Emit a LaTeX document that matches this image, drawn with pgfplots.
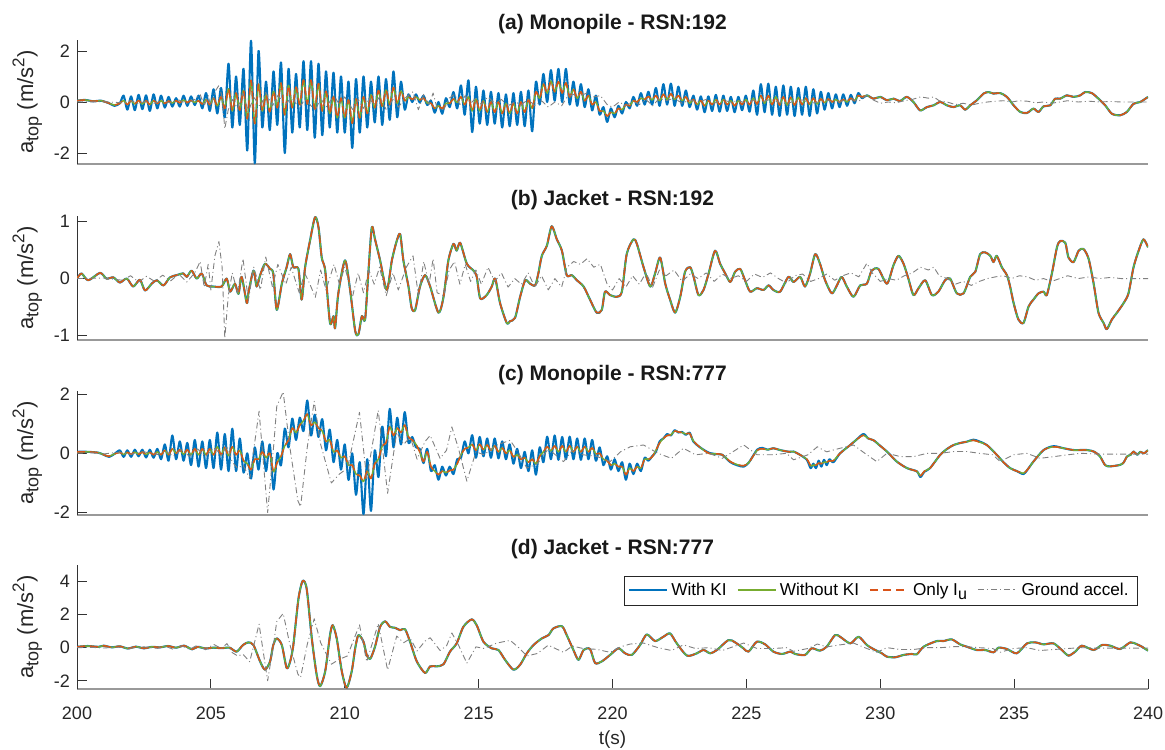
\documentclass[border=0pt]{standalone}
\usepackage{fontspec}
\setmainfont{Liberation Sans}
\usepackage{pgfplots}
\usepackage{pgfplotstable}
\pgfplotsset{compat=1.18}

\definecolor{mblue}{rgb}{0,0.447,0.741}
\definecolor{mgreen}{rgb}{0.466,0.674,0.188}
\definecolor{morange}{rgb}{0.85,0.325,0.098}

% (a) Monopile RSN:192 -- t, with KI, without KI
\pgfplotstableread{
t b g
200.00 0.05 0.05
200.30 0.08 0.08
200.60 0.03 0.03
200.90 0.05 0.05
201.20 -0.05 -0.05
201.40 -0.15 -0.12
201.60 -0.05 -0.05
201.74 0.25 0.06
201.88 -0.30 -0.10
202.02 0.22 0.05
202.16 -0.32 -0.08
202.30 0.28 0.06
202.44 -0.28 -0.08
202.58 0.26 0.05
202.72 -0.35 -0.10
202.86 0.30 0.06
203.00 -0.25 -0.06
203.14 0.25 0.05
203.28 -0.22 -0.06
203.42 0.20 0.04
203.56 -0.18 -0.04
203.70 0.15 0.05
203.84 -0.18 -0.03
203.98 0.25 0.08
204.12 -0.15 -0.02
204.26 0.22 0.06
204.40 -0.12 -0.02
204.54 0.25 0.05
204.68 -0.25 -0.08
204.82 0.35 0.10
204.96 -0.35 -0.10
205.10 0.50 0.15
205.24 -0.45 -0.15
205.38 0.55 0.20
205.52 -0.60 -0.25
205.66 1.50 0.52
205.80 -1.00 -0.35
205.94 1.00 0.35
206.08 -0.90 -0.32
206.22 1.30 0.45
206.36 -1.90 -0.66
206.50 2.40 0.85
206.64 -2.40 -0.85
206.78 2.00 0.70
206.92 -1.00 -0.35
207.06 0.80 0.28
207.20 -1.10 -0.38
207.34 1.20 0.42
207.48 -0.90 -0.22
207.62 1.55 0.74
207.76 -2.00 -0.50
207.90 1.30 0.65
208.04 -1.20 -0.22
208.18 1.10 0.58
208.32 -1.00 -0.10
208.46 1.60 0.86
208.60 -1.10 -0.08
208.74 1.60 0.86
208.88 -1.40 -0.29
209.02 1.50 0.72
209.16 -1.30 -0.35
209.30 1.20 0.42
209.44 -1.00 -0.45
209.58 1.15 0.20
209.72 -1.20 -0.62
209.86 1.00 0.15
210.00 -1.20 -0.62
210.14 0.80 0.08
210.28 -1.80 -0.83
210.42 0.90 0.12
210.56 -1.20 -0.62
210.70 1.00 0.20
210.84 -1.00 -0.45
210.98 0.80 0.28
211.12 -0.80 -0.23
211.26 1.00 0.45
211.40 -0.90 -0.17
211.54 0.90 0.47
211.68 -0.70 -0.10
211.82 1.20 0.57
211.96 -0.60 -0.06
212.10 0.80 0.43
212.24 -0.30 0.05
212.38 0.30 0.20
212.52 0.00 0.10
212.66 0.30 0.20
212.80 -0.02 0.08
212.94 0.25 0.15
213.08 -0.12 -0.04
213.22 0.05 -0.05
213.36 -0.42 -0.25
213.50 0.00 -0.15
213.64 -0.46 -0.26
213.78 0.15 -0.05
213.92 -0.20 -0.05
214.06 0.39 0.12
214.20 -0.25 -0.02
214.34 0.65 0.20
214.48 -0.50 -0.10
214.62 0.85 0.20
214.76 -1.18 -0.35
214.90 0.60 0.12
215.04 -0.85 -0.35
215.18 0.45 0.05
215.32 -0.90 -0.40
215.46 0.40 0.00
215.60 -0.85 -0.40
215.74 0.35 0.00
215.88 -1.00 -0.45
216.02 0.30 -0.05
216.16 -0.95 -0.45
216.30 0.35 -0.05
216.44 -0.90 -0.45
216.58 0.40 0.00
216.72 -0.95 -0.40
216.86 0.45 0.10
217.00 -1.15 -0.25
217.14 0.80 0.40
217.28 -0.10 0.15
217.42 1.10 0.70
217.56 0.00 0.35
217.70 1.25 0.82
217.84 0.05 0.40
217.98 1.30 0.80
218.12 0.00 0.35
218.26 1.30 0.75
218.40 -0.10 0.20
218.54 0.80 0.50
218.68 -0.15 0.15
218.82 0.70 0.40
218.96 -0.20 0.05
219.10 0.50 0.25
219.24 -0.33 -0.10
219.38 0.25 0.00
219.52 -0.50 -0.35
219.66 -0.20 -0.35
219.80 -0.78 -0.55
219.94 -0.25 -0.40
220.08 -0.60 -0.45
220.22 -0.15 -0.25
220.36 -0.45 -0.30
220.50 0.00 -0.10
220.64 -0.25 -0.15
220.78 0.20 0.05
220.92 -0.15 0.00
221.06 0.35 0.15
221.20 -0.10 0.10
221.34 0.40 0.22
221.48 -0.10 0.08
221.62 0.55 0.25
221.76 -0.15 0.05
221.90 0.70 0.30
222.04 -0.10 0.10
222.18 0.72 0.32
222.32 -0.15 0.10
222.46 0.60 0.25
222.60 -0.15 0.05
222.74 0.45 0.20
222.88 -0.20 -0.05
223.02 0.25 0.10
223.16 -0.30 -0.10
223.30 0.22 0.05
223.44 -0.40 -0.15
223.58 0.22 0.05
223.72 -0.35 -0.10
223.86 0.28 0.10
224.00 -0.38 -0.10
224.14 0.25 0.10
224.28 -0.35 -0.10
224.42 0.20 0.05
224.56 -0.40 -0.15
224.70 0.20 0.05
224.84 -0.32 -0.10
224.98 0.25 0.10
225.12 -0.38 -0.10
225.26 0.45 0.15
225.40 -0.50 -0.08
225.54 0.70 0.25
225.68 -0.40 -0.05
225.82 0.72 0.25
225.96 -0.50 -0.10
226.10 0.60 0.20
226.24 -0.55 -0.12
226.38 0.65 0.20
226.52 -0.50 -0.12
226.66 0.60 0.18
226.80 -0.55 -0.12
226.94 0.55 0.18
227.08 -0.50 -0.10
227.22 0.60 0.15
227.36 -0.55 -0.10
227.50 0.50 0.15
227.64 -0.45 -0.08
227.78 0.40 0.12
227.92 -0.30 -0.03
228.06 0.35 0.12
228.20 -0.25 0.00
228.34 0.30 0.10
228.48 -0.20 0.00
228.62 0.30 0.10
228.76 -0.15 0.00
228.90 0.28 0.15
229.04 -0.05 0.05
229.18 0.35 0.25
229.32 0.15 0.20
229.50 0.26 0.26
229.75 0.13 0.13
230.00 0.20 0.20
230.25 0.07 0.07
230.50 0.13 0.13
230.74 0.04 0.04
230.99 0.20 0.20
231.24 0.00 0.00
231.49 -0.33 -0.33
231.74 -0.20 -0.20
231.99 -0.13 -0.13
232.24 0.00 0.00
232.49 -0.13 -0.13
232.74 -0.20 -0.20
232.98 -0.13 -0.13
233.17 -0.30 -0.30
233.36 -0.13 -0.13
233.61 0.07 0.07
233.86 0.33 0.33
234.04 0.39 0.39
234.23 0.33 0.33
234.48 0.35 0.35
234.73 0.20 0.20
234.98 -0.13 -0.13
235.23 -0.39 -0.39
235.48 -0.43 -0.43
235.72 -0.26 -0.26
235.91 -0.39 -0.39
236.10 -0.17 -0.17
236.35 -0.13 -0.13
236.53 0.13 0.13
236.72 0.13 0.13
236.97 0.26 0.26
237.22 0.20 0.20
237.47 0.26 0.26
237.65 0.39 0.39
237.90 0.35 0.35
238.15 0.13 0.13
238.40 -0.13 -0.13
238.65 -0.46 -0.46
238.96 -0.52 -0.52
239.21 -0.39 -0.39
239.46 -0.07 -0.07
239.71 0.00 0.00
240.00 0.20 0.20
}\monoA

% (b) Jacket RSN:192 -- all three models nearly identical
\pgfplotstableread{
t y
200.00 0.00
200.17 0.09
200.42 -0.03
200.86 0.10
201.10 0.00
201.36 0.02
201.60 -0.07
201.86 0.00
202.10 -0.14
202.35 -0.02
202.54 -0.21
202.79 -0.09
202.98 -0.03
203.23 -0.12
203.47 0.02
203.72 0.06
203.97 0.09
204.10 0.03
204.28 0.14
204.47 0.00
204.66 0.09
204.84 -0.12
205.09 -0.14
205.40 -0.14
205.59 0.00
205.72 -0.23
205.90 -0.09
206.03 -0.27
206.15 0.03
206.34 -0.43
206.40 -0.26
206.59 0.14
206.71 -0.14
206.84 0.06
207.02 0.26
207.21 0.17
207.33 0.09
207.46 -0.55
207.65 -0.09
207.83 0.20
207.96 0.43
208.08 0.20
208.27 0.17
208.39 -0.37
208.52 0.20
208.70 0.66
208.89 1.08
209.02 0.90
209.14 0.37
209.27 0.14
209.45 -0.78
209.58 -0.66
209.64 -0.87
209.76 -0.26
210.01 0.32
210.20 -0.20
210.39 -0.92
210.51 -0.98
210.64 -0.66
210.76 -0.72
210.88 0.09
211.01 0.90
211.13 0.69
211.32 0.32
211.57 -0.20
211.76 0.32
211.94 0.66
212.07 0.78
212.19 0.32
212.38 -0.14
212.50 -0.52
212.63 -0.55
212.81 -0.14
213.00 0.06
213.19 -0.14
213.50 -0.60
213.69 -0.32
213.87 0.32
214.06 0.61
214.18 0.49
214.31 0.63
214.56 0.26
214.81 0.14
214.93 0.03
215.06 -0.35
215.30 -0.29
215.49 -0.14
215.62 0.00
215.80 -0.43
216.05 -0.78
216.17 -0.75
216.36 -0.69
216.55 -0.32
216.74 -0.03
216.92 -0.09
217.11 -0.12
217.23 0.09
217.36 0.40
217.55 0.58
217.73 0.92
217.92 0.69
218.11 0.49
218.29 0.06
218.48 0.06
218.67 -0.03
218.92 -0.14
219.16 -0.37
219.41 -0.60
219.60 -0.55
219.72 -0.23
219.91 -0.29
220.16 -0.32
220.35 -0.23
220.53 0.43
220.78 0.69
220.91 0.61
221.16 0.20
221.41 -0.14
221.59 0.09
221.78 0.37
221.97 -0.09
222.15 -0.37
222.34 -0.60
222.53 -0.32
222.71 0.12
222.90 0.20
223.03 0.03
223.21 -0.29
223.40 -0.20
223.59 0.09
223.83 0.49
224.02 0.26
224.21 0.09
224.40 -0.06
224.58 0.12
224.77 0.17
224.95 -0.03
225.14 -0.23
225.39 -0.17
225.64 -0.20
225.83 -0.12
226.01 -0.20
226.26 -0.23
226.57 0.03
226.76 -0.06
227.01 0.03
227.19 -0.14
227.38 0.09
227.57 0.43
227.75 0.26
227.94 -0.03
228.19 -0.26
228.38 -0.12
228.56 0.03
228.75 -0.14
229.00 -0.32
229.25 -0.12
229.50 -0.09
229.68 0.14
229.93 0.17
230.25 -0.09
230.49 0.23
230.68 0.40
230.87 0.26
231.05 0.00
231.24 -0.29
231.43 -0.17
231.68 -0.03
231.93 -0.29
232.17 -0.23
232.42 -0.03
232.61 0.00
232.86 -0.26
233.11 -0.26
233.36 0.03
233.55 0.12
233.73 0.43
233.92 0.46
234.11 0.40
234.23 0.29
234.35 0.40
234.54 0.20
234.73 0.06
234.85 -0.14
234.98 -0.43
235.16 -0.72
235.35 -0.78
235.54 -0.49
235.72 -0.37
235.91 -0.26
236.10 -0.23
236.22 -0.29
236.41 0.09
236.60 0.55
236.72 0.66
236.91 0.63
237.03 0.37
237.22 0.29
237.41 0.49
237.59 0.52
237.78 0.35
237.97 -0.09
238.15 -0.60
238.34 -0.78
238.46 -0.89
238.65 -0.72
238.84 -0.60
239.09 -0.43
239.27 -0.26
239.46 0.20
239.65 0.49
239.83 0.69
240.00 0.55
}\jackA

% ground acceleration RSN:192
\pgfplotstableread{
t y
200.0 0.00
201.0 0.01
201.7 -0.03
202.0 0.05
202.3 -0.06
202.6 0.04
202.9 -0.05
203.2 0.06
203.5 -0.04
203.8 0.08
204.1 -0.06
204.4 0.10
204.6 0.30
204.75 -0.15
204.9 0.25
205.0 -0.20
205.15 0.40
205.3 0.65
205.42 0.20
205.52 -1.05
205.65 -0.30
205.8 0.10
206.0 -0.25
206.2 0.35
206.4 -0.38
206.6 0.20
206.85 -0.20
207.05 0.38
207.3 -0.15
207.5 0.25
207.8 -0.10
208.0 0.20
208.3 -0.25
208.5 0.10
208.7 -0.10
208.9 -0.33
209.1 0.15
209.3 -0.20
209.6 0.25
209.8 -0.10
210.0 0.20
210.3 -0.30
210.5 0.10
210.7 -0.25
210.9 0.15
211.1 -0.10
211.3 0.20
211.55 -0.30
211.8 0.10
212.0 -0.20
212.3 0.20
212.55 0.40
212.75 -0.30
212.95 0.30
213.15 -0.10
213.3 0.35
213.45 -0.25
213.7 -0.30
213.9 0.15
214.1 0.30
214.3 -0.10
214.5 0.25
214.7 -0.05
214.9 0.15
215.1 -0.10
215.35 0.20
215.6 -0.05
215.85 0.10
216.1 -0.15
216.35 0.00
216.6 -0.10
216.85 0.10
217.1 -0.15
217.35 0.05
217.6 -0.20
217.85 0.00
218.1 -0.15
218.3 0.20
218.55 0.30
218.8 0.25
219.05 0.35
219.3 0.20
219.55 0.25
219.8 -0.10
220.0 -0.20
220.25 0.00
220.5 -0.15
220.75 0.05
221.0 -0.10
221.25 0.10
221.5 -0.15
221.75 0.15
222.0 0.05
222.3 0.15
222.6 -0.05
222.9 0.08
223.2 0.00
223.5 0.10
223.8 -0.05
224.1 0.08
224.4 0.00
224.7 0.05
225.0 -0.05
225.3 0.08
225.6 0.02
225.9 0.10
226.2 0.00
226.5 -0.08
226.8 0.05
227.1 0.08
227.4 -0.05
227.7 0.00
228.0 0.08
228.3 -0.03
228.6 0.05
228.9 0.10
229.2 0.03
229.5 0.27
229.7 0.10
230.0 -0.05
230.3 0.00
230.6 -0.03
230.9 0.05
231.2 0.10
231.5 0.20
231.8 0.15
232.0 0.20
232.2 0.05
232.5 0.00
232.8 -0.10
233.1 -0.05
233.4 -0.12
233.7 -0.05
234.0 0.00
234.3 0.03
234.6 0.05
234.9 0.00
235.2 0.05
235.5 0.03
235.8 -0.03
236.1 0.00
236.4 -0.05
236.7 0.00
237.0 0.05
237.4 0.00
237.8 0.03
238.2 0.00
238.6 0.02
239.0 0.00
240.0 0.00
}\gndA

% (c) Monopile RSN:777 -- t, with KI, without KI
\pgfplotstableread{
t b g
200.00 0.05 0.05
200.40 0.05 0.05
200.80 0.02 0.02
201.00 -0.05 -0.05
201.20 -0.12 -0.10
201.40 -0.02 -0.02
201.60 0.10 0.03
201.74 -0.12 -0.04
201.88 0.10 0.03
202.02 -0.12 -0.03
202.16 0.12 0.04
202.30 -0.10 -0.03
202.44 0.12 0.04
202.58 -0.14 -0.04
202.72 0.12 0.03
202.86 -0.15 -0.05
203.00 0.15 0.05
203.14 -0.20 -0.05
203.28 0.30 0.10
203.42 -0.25 -0.05
203.56 0.60 0.15
203.70 -0.20 0.00
203.84 0.40 0.12
203.98 -0.25 -0.03
204.12 0.35 0.12
204.26 -0.40 -0.05
204.40 0.45 0.15
204.54 -0.45 -0.05
204.68 0.40 0.15
204.82 -0.50 -0.05
204.96 0.45 0.15
205.10 -0.50 -0.05
205.24 0.70 0.22
205.38 -0.55 -0.05
205.52 0.65 0.20
205.66 -0.60 -0.08
205.80 0.83 0.22
205.94 -0.60 -0.05
206.08 0.50 0.10
206.22 -0.65 -0.25
206.36 0.00 -0.35
206.50 -0.85 -0.55
206.64 0.20 -0.20
206.78 -0.55 -0.20
206.92 0.40 0.05
207.06 -0.60 -0.15
207.20 0.30 0.00
207.34 -1.22 -0.62
207.48 0.00 -0.30
207.62 -0.40 -0.10
207.76 0.83 0.25
207.90 0.20 0.45
208.04 1.17 0.85
208.18 0.45 0.70
208.32 1.20 0.95
208.46 0.75 1.10
208.60 1.78 1.32
208.74 0.60 0.95
208.88 1.30 1.05
209.02 0.55 0.85
209.16 1.15 0.75
209.30 0.10 0.40
209.44 0.80 0.45
209.58 -0.30 0.05
209.72 0.45 0.10
209.86 -0.55 -0.15
210.00 0.30 -0.10
210.14 -0.90 -0.40
210.28 0.00 -0.40
210.42 -1.40 -0.70
210.56 -0.30 -0.75
210.70 -2.05 -0.95
210.84 -0.20 -0.60
210.98 -1.94 -0.85
211.12 0.10 -0.35
211.26 -0.80 -0.20
211.40 0.90 0.25
211.54 -0.10 0.35
211.68 1.50 0.90
211.82 0.20 0.60
211.96 1.20 0.85
212.10 0.30 0.70
212.24 1.39 0.95
212.38 0.35 0.55
212.52 0.55 0.45
212.66 0.20 0.30
212.80 0.15 0.05
212.94 -0.33 -0.28
213.08 0.15 0.05
213.22 -0.60 -0.45
213.36 -0.40 -0.60
213.50 -0.89 -0.72
213.64 -0.45 -0.60
213.78 -0.75 -0.65
213.92 -0.45 -0.58
214.06 -0.70 -0.55
214.20 -0.20 -0.35
214.34 -0.15 -0.05
214.48 0.40 0.15
214.62 0.00 0.20
214.76 0.61 0.30
214.90 -0.15 0.10
215.04 0.55 0.30
215.18 -0.10 0.12
215.32 0.50 0.28
215.46 -0.15 0.10
215.60 0.50 0.25
215.74 -0.17 0.05
215.88 0.40 0.18
216.02 -0.20 0.00
216.16 0.30 0.10
216.30 -0.35 -0.12
216.44 0.15 -0.05
216.58 -0.50 -0.20
216.72 0.05 -0.15
216.86 -0.60 -0.30
217.00 0.10 -0.20
217.14 -0.72 -0.35
217.28 0.20 -0.10
217.42 -0.30 0.05
217.56 0.56 0.22
217.70 -0.20 0.08
217.84 0.60 0.25
217.98 -0.22 0.05
218.12 0.55 0.25
218.26 -0.20 0.05
218.40 0.56 0.25
218.54 -0.20 0.05
218.68 0.50 0.22
218.82 -0.22 0.05
218.96 0.50 0.22
219.10 -0.20 0.05
219.24 0.45 0.18
219.38 -0.25 -0.02
219.52 0.20 0.00
219.66 -0.40 -0.20
219.80 -0.10 -0.25
219.94 -0.55 -0.40
220.08 -0.20 -0.35
220.22 -0.60 -0.45
220.36 -0.30 -0.45
220.50 -0.89 -0.72
220.64 -0.35 -0.50
220.78 -0.70 -0.60
220.92 -0.35 -0.45
221.06 -0.60 -0.50
221.20 -0.15 -0.20
221.34 -0.25 -0.20
221.48 -0.10 -0.12
221.62 0.05 0.10
221.76 0.40 0.35
221.90 0.50 0.50
222.04 0.65 0.60
222.18 0.60 0.62
222.32 0.78 0.75
222.46 0.70 0.72
222.60 0.72 0.70
222.74 0.62 0.65
222.88 0.70 0.67
223.02 0.40 0.42
223.27 0.20 0.20
223.60 0.02 0.00
223.90 -0.03 -0.02
224.10 -0.05 -0.05
224.40 -0.30 -0.28
224.65 -0.40 -0.38
224.90 -0.45 -0.42
225.10 -0.30 -0.30
225.40 0.12 0.10
225.60 0.18 0.15
225.80 0.12 0.12
226.00 0.17 0.17
226.30 0.10 0.10
226.60 0.05 0.05
226.76 0.06 0.06
227.00 -0.05 -0.05
227.26 -0.22 -0.20
227.40 -0.50 -0.42
227.50 -0.35 -0.40
227.60 -0.50 -0.40
227.70 -0.25 -0.33
227.80 -0.45 -0.35
227.90 -0.22 -0.30
228.00 -0.40 -0.30
228.10 -0.20 -0.25
228.25 -0.30 -0.25
228.50 0.00 0.00
228.88 0.28 0.28
229.10 0.45 0.45
229.37 0.65 0.61
229.55 0.50 0.50
229.75 0.44 0.44
230.00 0.25 0.25
230.25 0.06 0.06
230.62 -0.28 -0.28
231.00 -0.50 -0.50
231.37 -0.61 -0.61
231.50 -0.80 -0.76
231.65 -0.62 -0.60
231.86 -0.50 -0.50
232.24 -0.05 -0.05
232.50 0.15 0.15
232.74 0.28 0.28
233.00 0.35 0.35
233.23 0.39 0.39
233.48 0.46 0.44
233.70 0.40 0.38
233.98 0.28 0.28
234.35 -0.05 -0.05
234.60 -0.30 -0.30
234.85 -0.50 -0.50
235.10 -0.60 -0.60
235.35 -0.70 -0.67
235.50 -0.55 -0.55
235.72 -0.28 -0.28
236.10 0.11 0.11
236.47 0.24 0.22
236.85 0.17 0.17
237.22 0.11 0.11
237.72 0.11 0.11
238.00 0.05 0.05
238.21 -0.11 -0.11
238.40 -0.40 -0.40
238.59 -0.44 -0.44
238.96 -0.39 -0.39
239.10 -0.30 -0.30
239.21 -0.11 -0.11
239.35 -0.05 -0.05
239.46 0.06 0.06
239.60 -0.05 -0.05
239.71 0.05 0.05
239.85 0.00 0.00
240.00 0.11 0.11
}\monoB

% (d) Jacket RSN:777
\pgfplotstableread{
t y
200.00 0.05
200.40 0.10
200.80 0.05
201.00 0.12
201.30 0.02
201.60 0.08
201.90 -0.05
202.20 0.06
202.50 -0.04
202.80 0.05
203.10 0.02
203.40 0.10
203.70 0.00
204.00 0.12
204.30 -0.10
204.50 0.05
204.80 -0.05
205.10 0.00
205.40 -0.03
205.70 0.00
205.96 -0.24
206.20 0.16
206.40 0.32
206.59 0.16
206.84 -0.84
207.02 -1.33
207.21 -0.84
207.33 0.16
207.46 0.56
207.65 0.16
207.83 -1.23
207.96 -0.84
208.08 0.16
208.27 2.95
208.43 4.04
208.58 3.54
208.77 0.56
208.95 -1.63
209.08 -2.33
209.27 -1.43
209.45 0.76
209.55 1.36
209.70 0.56
209.89 -1.43
210.07 -2.43
210.26 -1.43
210.39 -0.04
210.51 0.76
210.70 0.36
210.82 -0.44
210.95 -0.68
211.13 0.06
211.32 1.26
211.51 1.59
211.69 1.26
211.88 1.20
212.07 1.06
212.25 1.12
212.44 0.36
212.69 -0.83
213.00 -1.53
213.19 -1.13
213.44 -1.13
213.69 -1.00
213.93 -0.24
214.18 0.26
214.43 1.26
214.74 1.71
214.93 1.35
215.18 0.36
215.49 -0.04
215.74 -0.14
215.99 -0.74
216.30 -1.33
216.55 -1.03
216.80 -0.34
217.05 0.16
217.36 0.56
217.61 0.76
217.79 1.16
218.11 1.30
218.29 0.76
218.54 -0.14
218.73 -0.74
218.92 -0.14
219.16 -0.08
219.35 -0.93
219.60 -0.83
219.91 -0.44
220.22 -0.04
220.47 -0.34
220.72 -0.44
221.03 0.16
221.28 0.80
221.59 0.40
221.90 0.66
222.15 0.86
222.40 0.26
222.78 -0.48
223.15 -0.34
223.40 -0.14
223.65 -0.34
223.90 -0.14
224.33 0.46
224.58 0.32
224.89 -0.04
225.08 -0.24
225.39 0.36
225.70 0.20
226.01 -0.24
226.33 -0.38
226.64 -0.24
226.82 -0.38
227.19 -0.44
227.44 -0.04
227.75 -0.18
228.00 0.06
228.31 0.76
228.50 0.66
228.88 0.26
229.19 0.66
229.50 0.16
229.81 -0.14
230.06 -0.34
230.24 -0.54
230.56 -0.58
230.87 -0.44
231.18 -0.38
231.37 -0.40
231.62 0.06
232.11 0.40
232.36 0.40
232.67 0.50
232.98 0.20
233.23 0.06
233.60 -0.14
233.92 -0.14
234.23 -0.28
234.42 0.00
234.73 -0.08
235.10 -0.34
235.48 0.26
235.79 0.32
236.10 0.20
236.47 0.26
236.78 -0.14
237.03 -0.48
237.28 -0.24
237.53 0.12
237.97 -0.14
238.28 0.16
238.59 0.12
238.96 -0.08
239.34 0.32
239.59 0.20
239.77 0.06
240.00 -0.18
}\jackB

% ground acceleration RSN:777
\pgfplotstableread{
t y
200.0 0.00
200.5 0.02
201.0 -0.02
201.5 0.03
202.0 -0.03
202.5 0.05
203.0 -0.04
203.3 0.08
203.6 -0.10
203.9 0.12
204.2 -0.10
204.5 0.15
204.8 -0.12
205.1 0.20
205.4 -0.05
205.6 0.25
205.8 -0.30
206.0 -0.50
206.2 -0.40
206.45 -0.85
206.8 1.42
207.12 -2.00
207.35 0.30
207.46 1.58
207.7 2.07
207.95 0.20
208.25 -1.60
208.35 -1.80
208.6 0.20
208.86 1.75
209.1 0.30
209.5 -1.00
209.8 -0.70
210.1 -0.50
210.55 1.38
210.82 -0.85
211.25 1.45
211.6 -1.35
211.94 0.70
212.2 0.30
212.45 0.55
212.7 -0.20
213.0 0.40
213.19 0.60
213.56 -0.17
213.8 0.10
214.0 0.89
214.25 0.15
214.56 -0.94
214.9 0.05
215.2 -0.05
215.68 0.28
216.18 0.44
216.5 0.00
216.8 -0.50
217.2 -0.35
217.6 0.15
218.17 -0.28
218.5 0.10
218.9 -0.05
219.4 -0.10
219.91 -0.28
220.3 0.05
220.66 0.22
221.16 0.28
221.7 0.00
222.2 -0.17
222.65 0.17
223.1 -0.05
223.6 0.00
224.1 -0.17
224.9 0.28
225.4 -0.05
226.0 -0.05
226.5 0.00
226.76 -0.22
227.3 -0.05
227.65 0.22
228.0 0.05
228.5 0.17
229.0 0.28
229.5 -0.05
229.87 -0.28
230.25 0.00
230.75 -0.11
231.25 -0.11
231.75 0.00
232.25 0.00
232.75 0.06
233.23 0.06
233.7 0.00
234.2 -0.05
234.48 -0.28
234.97 -0.05
235.47 0.00
235.97 -0.17
236.5 -0.11
237.0 -0.05
237.5 0.00
238.2 -0.03
240.0 -0.03
}\gndB

\pgfplotsset{
  sub/.style={
    scale only axis, width=535.5pt, height=62pt,
    xmin=200, xmax=240,
    axis x line*=bottom, axis y line*=left,
    x axis line style={-, draw=black!40, line width=0.9pt},
    y axis line style={-, draw=black!80, line width=0.4pt},
    tick align=inside, major tick length=5pt,
    every tick/.style={black!80, line width=0.4pt},
    xtick=\empty,
    font=\fontsize{9}{11}\selectfont,
    /pgf/number format/assume math mode=true,
    ticklabel style={font=\fontsize{9}{11}\selectfont, text=black!85},
    ylabel={a\raisebox{-0.45ex}{\fontsize{9}{10}\selectfont top} (m/s\raisebox{0.75ex}{\fontsize{8.5}{9}\selectfont 2})},
    ylabel style={at={(axis description cs:-0.026,0.5)}, anchor=south,
      font=\fontsize{11}{13}\selectfont, text=black!85},
    title style={font=\bfseries\fontsize{10.5}{12}\selectfont, text=black!90, yshift=-6.5pt},
    clip=true,
  },
}
\tikzset{
  wki/.style={draw=mblue, line width=1.05pt, line join=round},
  woki/.style={draw=mgreen, line width=0.75pt, line join=round},
  onlyiu/.style={draw=morange, line width=0.75pt, line join=round, dash pattern=on 4pt off 2.5pt},
  gacc/.style={draw=black!50, line width=0.45pt, line join=round, dash pattern=on 3pt off 1.5pt on 0.5pt off 1.5pt},
}
% legend samples set as coloured rules
\newcommand{\dashA}{\rule[-0.375pt]{4pt}{0.75pt}\hspace{2.5pt}}
\newcommand{\dashB}{\rule[-0.225pt]{3pt}{0.45pt}\hspace{1.5pt}\rule[-0.225pt]{0.6pt}{0.45pt}\hspace{1.5pt}}

\begin{document}
\begin{tikzpicture}
\useasboundingbox (0,0) rectangle (582.5pt,-374.5pt);

\begin{axis}[sub, at={(38.5pt,-82pt)}, ymin=-2.43, ymax=2.43, ytick={-2,0,2},
  title={(a) Monopile - RSN:192}]
  \addplot[wki, smooth, tension=0.45] table[x=t,y=b] {\monoA};
  \addplot[woki, smooth, tension=0.45] table[x=t,y=g] {\monoA};
  \addplot[onlyiu, smooth, tension=0.45] table[x=t,y=g] {\monoA};
  \addplot[gacc] table[x=t,y=y] {\gndA};
\end{axis}

\begin{axis}[sub, at={(38.5pt,-170pt)}, ymin=-1.08, ymax=1.1, ytick={-1,0,1},
  title={(b) Jacket - RSN:192}]
  \addplot[wki, smooth, tension=0.45] table[x=t,y=y] {\jackA};
  \addplot[woki, smooth, tension=0.45] table[x=t,y=y] {\jackA};
  \addplot[onlyiu, smooth, tension=0.45] table[x=t,y=y] {\jackA};
  \addplot[gacc] table[x=t,y=y] {\gndA};
\end{axis}

\begin{axis}[sub, at={(38.5pt,-257.5pt)}, ymin=-2.08, ymax=2.1, ytick={-2,0,2},
  title={(c) Monopile - RSN:777}]
  \addplot[wki, smooth, tension=0.45] table[x=t,y=b] {\monoB};
  \addplot[woki, smooth, tension=0.45] table[x=t,y=g] {\monoB};
  \addplot[onlyiu, smooth, tension=0.45] table[x=t,y=g] {\monoB};
  \addplot[gacc] table[x=t,y=y] {\gndB};
\end{axis}

\begin{axis}[sub, at={(38.5pt,-344.5pt)}, ymin=-2.5, ymax=5, ytick={-2,0,2,4},
  xtick={200,205,...,240},
  xticklabel style={yshift=-5.5pt},
  xlabel={t(s)},
  xlabel style={font=\fontsize{9.5}{11}\selectfont, text=black!85, yshift=1.5pt},
  title={(d) Jacket - RSN:777},
  legend columns=4,
  legend style={at={(1,1)}, anchor=north east, xshift=-5pt, yshift=-5.5pt,
    draw=black!85, line width=0.4pt, inner xsep=2.5pt, inner ysep=1.5pt,
    font=\fontsize{8.6}{10.5}\selectfont,
    /tikz/every even column/.append style={column sep=3.5pt}}]
  \addplot[wki, smooth, tension=0.45,
    legend image code/.code={\node[inner sep=0pt, anchor=west] at (0pt,0pt)
      {\textcolor{mblue}{\rule[-0.525pt]{19pt}{1.05pt}}};}]
    table[x=t,y=y] {\jackB};
  \addlegendentry{With KI}
  \addplot[woki, smooth, tension=0.45,
    legend image code/.code={\node[inner sep=0pt, anchor=west] at (0pt,0pt)
      {\textcolor{mgreen}{\rule[-0.375pt]{19pt}{0.75pt}}};}]
    table[x=t,y=y] {\jackB};
  \addlegendentry{Without KI}
  \addplot[onlyiu, smooth, tension=0.45,
    legend image code/.code={\node[inner sep=0pt, anchor=west] at (0pt,0pt)
      {\textcolor{morange}{\dashA\dashA\dashA}};}]
    table[x=t,y=y] {\jackB};
  \addlegendentry{Only I\raisebox{-0.45ex}{\fontsize{8}{9}\selectfont u}}
  \addplot[gacc,
    legend image code/.code={\node[inner sep=0pt, anchor=west] at (0pt,0pt)
      {\textcolor{black!50}{\dashB\dashB\dashB}};}]
    table[x=t,y=y] {\gndB};
  \addlegendentry{Ground accel.}
\end{axis}
\end{tikzpicture}
\end{document}
